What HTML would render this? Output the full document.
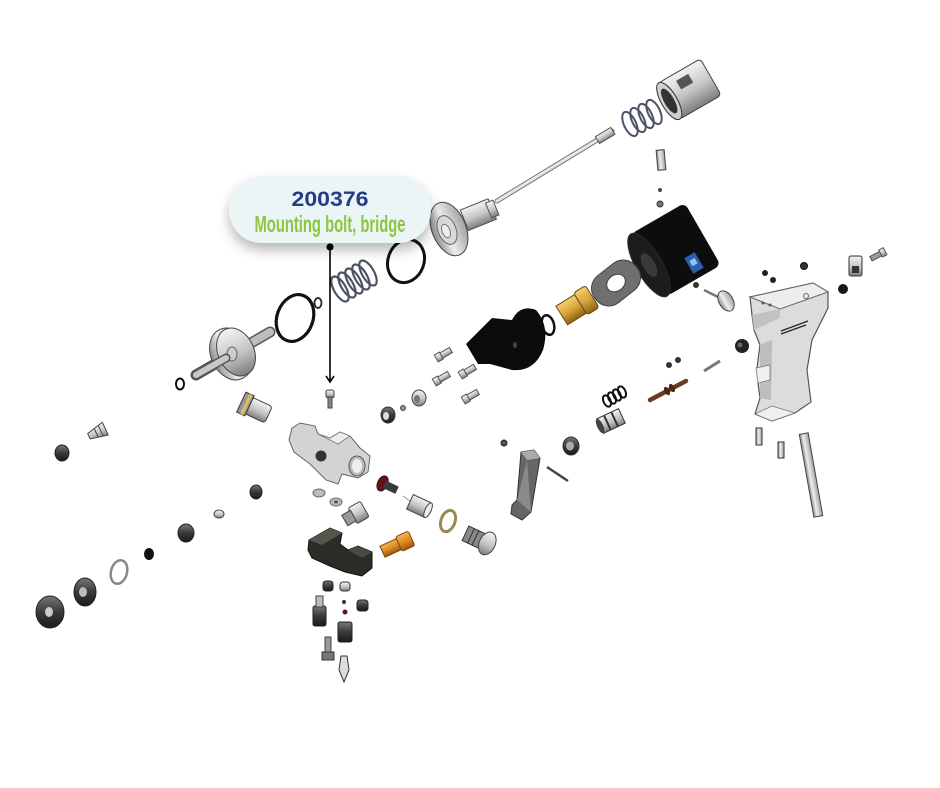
<!DOCTYPE html>
<html><head><meta charset="utf-8"><style>
html,body{margin:0;padding:0;background:#fff;}
svg{display:block;}
</style></head><body>
<svg width="940" height="788" viewBox="0 0 940 788" xmlns="http://www.w3.org/2000/svg">
<defs>
<linearGradient id="m" x1="0" y1="0" x2="0" y2="1"><stop offset="0" stop-color="#f4f4f4"/><stop offset=".55" stop-color="#c4c4c4"/><stop offset="1" stop-color="#7d7d7d"/></linearGradient>
<linearGradient id="mh" x1="0" y1="0" x2="1" y2="0"><stop offset="0" stop-color="#8a8a8a"/><stop offset=".4" stop-color="#eeeeee"/><stop offset="1" stop-color="#a0a0a0"/></linearGradient>
<linearGradient id="br" x1="0" y1="0" x2="0" y2="1"><stop offset="0" stop-color="#f3cf6e"/><stop offset=".5" stop-color="#d9a53a"/><stop offset="1" stop-color="#8a6118"/></linearGradient>
<linearGradient id="or" x1="0" y1="0" x2="0" y2="1"><stop offset="0" stop-color="#f7b456"/><stop offset=".5" stop-color="#e08a22"/><stop offset="1" stop-color="#9a560c"/></linearGradient>
<linearGradient id="dk" x1="0" y1="0" x2="0" y2="1"><stop offset="0" stop-color="#777"/><stop offset=".5" stop-color="#3a3a3a"/><stop offset="1" stop-color="#1a1a1a"/></linearGradient>
<filter id="sh" x="-20%" y="-30%" width="140%" height="180%"><feDropShadow dx="0" dy="7" stdDeviation="6" flood-color="#000" flood-opacity="0.28"/></filter>
</defs>

<!-- ===== TOP RIGHT: air cap, spring, needle ===== -->
<g transform="translate(690,89) rotate(-30)">
  <rect x="-24" y="-21" width="48" height="42" rx="4" fill="url(#m)" stroke="#444"/>
  <rect x="-8" y="-14" width="14" height="10" fill="#555"/>
  <ellipse cx="-24" cy="0" rx="8" ry="21" fill="#cfcfcf" stroke="#333"/>
  <ellipse cx="-24" cy="0" rx="5" ry="14" fill="#333"/>
</g>
<g fill="none" stroke="#4d5266" stroke-width="2">
  <ellipse cx="630" cy="124" rx="6" ry="13" transform="rotate(-25 630 124)"/>
  <ellipse cx="638" cy="120" rx="6" ry="13" transform="rotate(-25 638 120)"/>
  <ellipse cx="646" cy="116" rx="6" ry="13" transform="rotate(-25 646 116)"/>
  <ellipse cx="654" cy="112" rx="6" ry="13" transform="rotate(-25 654 112)"/>
</g>
<line x1="497" y1="201" x2="612" y2="131" stroke="#777" stroke-width="5" stroke-linecap="round"/>
<line x1="497" y1="201" x2="612" y2="131" stroke="#e6e6e6" stroke-width="3" stroke-linecap="round"/>
<g transform="translate(606,135) rotate(-31)"><rect x="-10" y="-4" width="18" height="8" fill="url(#m)" stroke="#555"/></g>

<!-- piston disc with hub -->
<g transform="translate(470,218) rotate(-22)">
  <rect x="-6" y="-11" width="30" height="22" fill="url(#m)" stroke="#555"/>
  <rect x="20" y="-8" width="8" height="16" fill="url(#m)" stroke="#555"/>
</g>
<ellipse cx="449" cy="229" rx="17" ry="28" transform="rotate(-22 449 229)" fill="url(#mh)" stroke="#444"/>
<ellipse cx="447" cy="230" rx="9" ry="15" transform="rotate(-22 447 230)" fill="#d8d8d8" stroke="#666"/>
<ellipse cx="446" cy="231" rx="4" ry="7" transform="rotate(-22 446 231)" fill="#eee" stroke="#777"/>

<!-- small screw + dots -->
<g transform="translate(661,160) rotate(-5)"><rect x="-4" y="-10" width="8" height="20" fill="url(#mh)" stroke="#444"/></g>
<circle cx="660" cy="190" r="2" fill="#444"/>
<circle cx="660" cy="204" r="3" fill="#777" stroke="#333"/>

<!-- black cylinder -->
<g transform="translate(675,250) rotate(-30)">
  <rect x="-30" y="-36" width="62" height="72" rx="6" fill="#0d0d0d"/>
  <ellipse cx="-30" cy="0" rx="13" ry="36" fill="#1c1c1c" stroke="#2a2a2a"/>
  <ellipse cx="-30" cy="0" rx="6" ry="13" fill="#3a3a3a"/>
</g>
<g transform="translate(694,263) rotate(-30)"><rect x="-6" y="-9" width="12" height="18" fill="#2a5fb0"/><rect x="-3" y="-4" width="6" height="6" fill="#9cc0ee"/></g>

<!-- gasket plate -->
<g transform="translate(616,283) rotate(-38)">
  <rect x="-26" y="-17" width="52" height="34" rx="16" fill="#6f6f6f" stroke="#444"/>
  <ellipse cx="0" cy="0" rx="10" ry="8" fill="#fff" stroke="#444"/>
</g>
<!-- brass fitting -->
<g transform="translate(577,306) rotate(-32)">
  <rect x="-18" y="-11" width="22" height="22" fill="url(#br)" stroke="#6a4a10"/>
  <rect x="4" y="-13" width="14" height="26" rx="3" fill="url(#br)" stroke="#6a4a10"/>
</g>
<!-- o-ring -->
<ellipse cx="548" cy="325" rx="6" ry="10" transform="rotate(-15 548 325)" fill="none" stroke="#111" stroke-width="2.5"/>

<!-- black block -->
<path d="M466 344 L492 318 L512 320 Q520 304 536 310 Q550 326 543 350 Q534 372 512 370 L490 364 L478 364 Z" fill="#0b0b0b"/>
<ellipse cx="515" cy="345" rx="2" ry="3" fill="#444"/>

<!-- valve stem -->
<circle cx="696" cy="285" r="3" fill="#333"/>
<line x1="704" y1="290" x2="722" y2="299" stroke="#777" stroke-width="2.5"/>
<ellipse cx="726" cy="301" rx="7" ry="11" transform="rotate(-30 726 301)" fill="url(#mh)" stroke="#444"/>

<!-- ===== PISTOL GRIP ===== -->
<path d="M750 297 L813 283 L828 292 L828 308 L812 340 L807 370 L811 402 L795 413 L772 421 L755 414 L760 398 L758 383 L765 378 L757 368 L760 345 L754 330 L752 315 Z" fill="#dcdcdc" stroke="#555" stroke-width="1.2"/>
<path d="M750 297 L813 283 L828 292 L780 309 Z" fill="#eeeeee" stroke="#666" stroke-width="1"/>
<path d="M752 315 L780 309 L780 318 L754 330 Z" fill="#c2c2c2"/>
<path d="M760 345 L772 340 L771 400 L760 398 Z" fill="#bdbdbd"/>
<path d="M756 368 L770 365 L770 380 L758 383 Z" fill="#f0f0f0" stroke="#777" stroke-width=".8"/>
<path d="M755 414 L772 406 L795 413 L772 421 Z" fill="#f0f0f0" stroke="#777" stroke-width=".8"/>
<g stroke="#222" stroke-width="1.2">
  <line x1="781" y1="331" x2="808" y2="321"/>
  <line x1="781" y1="334" x2="806" y2="325"/>
</g>
<circle cx="806" cy="296" r="2.5" fill="none" stroke="#666"/>
<circle cx="763" cy="303" r="1.5" fill="#555"/><circle cx="770" cy="305" r="1.5" fill="#555"/>

<!-- small bits near grip -->
<circle cx="765" cy="273" r="3" fill="#222"/>
<circle cx="773" cy="280" r="3" fill="#222"/>
<circle cx="804" cy="266" r="3.5" fill="#333" stroke="#111"/>
<circle cx="843" cy="289" r="5" fill="#1a1a1a"/>
<rect x="849" y="256" width="13" height="20" rx="2" fill="url(#m)" stroke="#333"/>
<rect x="852" y="266" width="7" height="7" fill="#333"/>
<g transform="translate(878,255) rotate(-28)"><rect x="-8" y="-2.5" width="12" height="5" fill="#999" stroke="#555"/><rect x="3" y="-4" width="5" height="8" fill="url(#m)" stroke="#555"/></g>

<circle cx="742" cy="346" r="7" fill="#222"/>
<circle cx="740" cy="345" r="2.5" fill="#666"/>
<line x1="704" y1="371" x2="720" y2="361" stroke="#777" stroke-width="3"/>
<circle cx="669" cy="365" r="3" fill="#333"/>
<circle cx="678" cy="360" r="3" fill="#333"/>
<line x1="650" y1="400" x2="686" y2="381" stroke="#6b3a22" stroke-width="4.5" stroke-linecap="round"/>
<g fill="#4a2816"><ellipse cx="667" cy="391" rx="2.5" ry="4.5" transform="rotate(-28 667 391)"/><ellipse cx="672" cy="388" rx="2.5" ry="4.5" transform="rotate(-28 672 388)"/></g>
<g fill="none" stroke="#111" stroke-width="2">
  <ellipse cx="607" cy="401" rx="3.5" ry="6" transform="rotate(-25 607 401)"/>
  <ellipse cx="612" cy="398" rx="3.5" ry="6" transform="rotate(-25 612 398)"/>
  <ellipse cx="617" cy="395" rx="3.5" ry="6" transform="rotate(-25 617 395)"/>
  <ellipse cx="622" cy="392" rx="3.5" ry="6" transform="rotate(-25 622 392)"/>
</g>
<g transform="translate(611,421) rotate(-25)">
  <rect x="-12" y="-8" width="24" height="16" fill="url(#m)" stroke="#333"/>
  <line x1="-4" y1="-8" x2="-4" y2="8" stroke="#333" stroke-width="2"/><line x1="4" y1="-8" x2="4" y2="8" stroke="#333" stroke-width="2"/>
  <ellipse cx="-12" cy="0" rx="3" ry="8" fill="#444"/>
</g>
<rect x="756" y="428" width="6" height="17" fill="url(#mh)" stroke="#333"/>
<rect x="778" y="442" width="6" height="16" fill="url(#mh)" stroke="#333"/>
<g transform="translate(811,475) rotate(-10)"><rect x="-4.5" y="-42" width="9" height="84" fill="url(#mh)" stroke="#444"/></g>

<!-- ===== MIDDLE SCREWS / FITTINGS ===== -->
<g fill="url(#m)" stroke="#555">
  <g transform="translate(444,354) rotate(-30)"><rect x="-4" y="-3" width="12" height="6"/><rect x="-9" y="-4" width="6" height="8"/></g>
  <g transform="translate(442,378) rotate(-30)"><rect x="-4" y="-3" width="12" height="6"/><rect x="-9" y="-4" width="6" height="8"/></g>
  <g transform="translate(468,371) rotate(-30)"><rect x="-4" y="-3" width="12" height="6"/><rect x="-9" y="-4" width="6" height="8"/></g>
  <g transform="translate(471,396) rotate(-30)"><rect x="-4" y="-3" width="12" height="6"/><rect x="-9" y="-4" width="6" height="8"/></g>
</g>
<ellipse cx="388" cy="415" rx="7" ry="8" fill="url(#dk)" stroke="#333"/>
<ellipse cx="386" cy="416" rx="3" ry="4" fill="#ddd"/>
<circle cx="403" cy="408" r="2.5" fill="#999" stroke="#444"/>
<ellipse cx="419" cy="398" rx="7" ry="8" fill="url(#m)" stroke="#444"/>
<ellipse cx="417" cy="399" rx="3" ry="4" fill="#777"/>
<circle cx="504" cy="443" r="3" fill="#555" stroke="#222"/>
<ellipse cx="571" cy="446" rx="8" ry="9" fill="url(#dk)" stroke="#333"/>
<ellipse cx="570" cy="446" rx="4" ry="4.5" fill="#aaa"/>
<line x1="547" y1="467" x2="568" y2="481" stroke="#444" stroke-width="2.5"/>
<!-- trigger lever -->
<path d="M521 452 L534 450 L540 458 L531 512 L522 520 L511 514 L512 505 L517 500 Z" fill="#666" stroke="#333"/>
<path d="M521 452 L534 450 L540 458 L527 460 Z" fill="#aaa"/>
<path d="M517 500 L527 460 L531 512 Z" fill="#8a8a8a"/>

<!-- ===== LEFT: spring, o-rings, piston ===== -->
<g fill="none" stroke="#4d5266" stroke-width="2.2">
  <ellipse cx="340" cy="289" rx="6" ry="14" transform="rotate(-30 340 289)"/>
  <ellipse cx="347" cy="285" rx="6" ry="14" transform="rotate(-30 347 285)"/>
  <ellipse cx="354" cy="281" rx="6" ry="14" transform="rotate(-30 354 281)"/>
  <ellipse cx="361" cy="277" rx="6" ry="14" transform="rotate(-30 361 277)"/>
  <ellipse cx="368" cy="273" rx="6" ry="14" transform="rotate(-30 368 273)"/>
</g>
<ellipse cx="406" cy="261" rx="18" ry="22" transform="rotate(20 406 261)" fill="none" stroke="#111" stroke-width="3"/>
<ellipse cx="295" cy="318" rx="18" ry="24" transform="rotate(20 295 318)" fill="none" stroke="#111" stroke-width="3.2"/>
<ellipse cx="318" cy="303" rx="3.5" ry="5" fill="none" stroke="#222" stroke-width="1.8"/>
<line x1="196" y1="375" x2="270" y2="332" stroke="#555" stroke-width="11" stroke-linecap="round"/>
<line x1="196" y1="375" x2="270" y2="332" stroke="#bdbdbd" stroke-width="8" stroke-linecap="round"/>
<ellipse cx="231" cy="354" rx="20" ry="27" transform="rotate(-25 231 354)" fill="url(#mh)" stroke="#444"/>
<ellipse cx="236" cy="352" rx="18" ry="25" transform="rotate(-25 236 352)" fill="url(#m)" stroke="#444"/>
<ellipse cx="232" cy="354" rx="5" ry="7" fill="#ccc" stroke="#666"/>
<line x1="196" y1="375" x2="226" y2="358" stroke="#555" stroke-width="9" stroke-linecap="round"/>
<line x1="196" y1="375" x2="226" y2="358" stroke="#c8c8c8" stroke-width="6" stroke-linecap="round"/>
<ellipse cx="180" cy="384" rx="4" ry="5.5" fill="none" stroke="#111" stroke-width="2"/>
<!-- fitting left -->
<g transform="translate(254,408) rotate(25)">
  <rect x="-6" y="-9" width="22" height="18" rx="3" fill="url(#m)" stroke="#444"/>
  <rect x="-14" y="-11" width="9" height="22" fill="#999" stroke="#333"/>
  <rect x="-10" y="-11" width="3" height="22" fill="#d8c060"/>
</g>
<!-- mounting bolt -->
<rect x="326" y="390" width="8" height="8" rx="2" fill="url(#m)" stroke="#444"/>
<rect x="328" y="397" width="4" height="11" fill="#888" stroke="#444"/>
<!-- block -->
<path d="M292 428 L300 423 L315 426 L318 434 L330 438 L340 432 L350 436 L360 448 L370 456 L368 472 L358 478 L342 474 L338 484 L326 480 L310 464 L294 452 L289 440 Z" fill="#d3d3d3" stroke="#666" stroke-width="1"/>
<path d="M318 434 L330 438 L340 432 L350 436 L338 444 Z" fill="#eeeeee" stroke="#777" stroke-width=".8"/>
<circle cx="321" cy="456" r="5.5" fill="#333"/>
<ellipse cx="357" cy="466" rx="8" ry="10" fill="#bbb" stroke="#555"/>
<ellipse cx="357" cy="466" rx="5" ry="7" fill="#eee"/>

<!-- ===== FAR LEFT / BOTTOM LEFT ===== -->
<g transform="translate(98,432) rotate(-25)"><path d="M-10 -3 L8 -7 L8 7 L-10 3 Z" fill="url(#m)" stroke="#444"/><line x1="-2" y1="-5" x2="-2" y2="5" stroke="#444"/><line x1="3" y1="-6" x2="3" y2="6" stroke="#444"/></g>
<ellipse cx="62" cy="453" rx="7" ry="8" fill="url(#dk)" stroke="#222"/>
<ellipse cx="256" cy="492" rx="6" ry="7" fill="url(#dk)" stroke="#222"/>
<ellipse cx="219" cy="514" rx="5" ry="4" fill="url(#m)" stroke="#444"/>
<ellipse cx="186" cy="533" rx="8" ry="9" fill="url(#dk)" stroke="#222"/>
<ellipse cx="149" cy="554" rx="5" ry="6" fill="#111"/>
<ellipse cx="119" cy="572" rx="8" ry="12" transform="rotate(15 119 572)" fill="none" stroke="#888" stroke-width="2.5"/>
<ellipse cx="85" cy="592" rx="11" ry="14" fill="url(#dk)" stroke="#222"/>
<ellipse cx="83" cy="592" rx="4" ry="5" fill="#bbb"/>
<ellipse cx="50" cy="612" rx="14" ry="16" fill="url(#dk)" stroke="#222"/>
<ellipse cx="49" cy="612" rx="4" ry="5" fill="#ccc"/>

<!-- ===== LOWER CENTER ===== -->
<g transform="translate(388,486) rotate(25)"><ellipse cx="-6" cy="0" rx="5" ry="8" fill="#6a1015" stroke="#222"/><rect x="-4" y="-4" width="14" height="8" fill="#3a3a3a"/></g>
<line x1="403" y1="496" x2="411" y2="502" stroke="#999" stroke-width="1"/>
<g transform="translate(419,506) rotate(25)"><rect x="-10" y="-8" width="20" height="16" fill="url(#m)" stroke="#444"/><ellipse cx="10" cy="0" rx="3" ry="8" fill="#eee" stroke="#444"/></g>
<ellipse cx="448" cy="521" rx="7" ry="11" transform="rotate(20 448 521)" fill="none" stroke="#9a8a50" stroke-width="3"/>
<g transform="translate(480,540) rotate(25)"><rect x="-16" y="-8" width="20" height="16" fill="#888" stroke="#333"/><line x1="-10" y1="-8" x2="-10" y2="8" stroke="#333"/><line x1="-5" y1="-8" x2="-5" y2="8" stroke="#333"/><ellipse cx="8" cy="0" rx="8" ry="12" fill="url(#m)" stroke="#444"/></g>
<ellipse cx="319" cy="493" rx="6" ry="4" fill="#bbb" stroke="#666"/>
<ellipse cx="336" cy="502" rx="6" ry="4" fill="#bbb" stroke="#666"/>
<ellipse cx="336" cy="502" rx="2" ry="1.5" fill="#555"/>
<g transform="translate(356,514) rotate(-30)"><rect x="-4" y="-9" width="14" height="18" rx="2" fill="url(#m)" stroke="#444"/><rect x="-13" y="-6" width="10" height="12" fill="#999" stroke="#444"/></g>
<!-- black bracket -->
<path d="M309 540 L330 528 L342 533 L340 544 L348 550 L358 546 L372 552 L372 568 L362 576 L345 572 L330 566 L312 558 L308 550 Z" fill="#2c2c26" stroke="#111"/>
<path d="M309 540 L330 528 L342 533 L322 545 Z" fill="#55554c"/>
<path d="M348 550 L358 546 L372 552 L362 558 Z" fill="#4a4a42"/>
<g transform="translate(397,545) rotate(-25)"><rect x="-16" y="-6" width="18" height="12" fill="url(#or)" stroke="#7a4a10"/><rect x="2" y="-8" width="14" height="16" rx="2" fill="url(#or)" stroke="#7a4a10"/></g>
<rect x="323" y="581" width="10" height="10" rx="3" fill="url(#dk)" stroke="#222"/>
<rect x="340" y="582" width="10" height="9" rx="3" fill="url(#m)" stroke="#333"/>
<rect x="357" y="600" width="11" height="11" rx="3" fill="url(#dk)" stroke="#222"/>
<circle cx="344" cy="602" r="2" fill="#333"/>
<circle cx="345" cy="612" r="2.5" fill="#6a1015"/>
<rect x="313" y="606" width="13" height="20" rx="2" fill="url(#dk)" stroke="#222"/>
<rect x="316" y="596" width="7" height="11" fill="#bbb" stroke="#444"/>
<rect x="338" y="622" width="14" height="20" rx="2" fill="url(#dk)" stroke="#222"/>
<rect x="325" y="637" width="6" height="20" fill="#999" stroke="#444"/>
<rect x="322" y="652" width="12" height="8" fill="#777" stroke="#333"/>
<path d="M341 656 L347 656 L349 670 L344 682 L339 670 Z" fill="#ddd" stroke="#333"/>

<!-- ===== CALLOUT ===== -->
<rect x="229" y="176" width="202" height="67" rx="33" fill="#ebf5f6" filter="url(#sh)"/>
<text x="330" y="206" text-anchor="middle" font-family="Liberation Sans, sans-serif" font-weight="bold" font-size="21" fill="#233b8a" textLength="77" lengthAdjust="spacingAndGlyphs">200376</text>
<text x="330" y="232" text-anchor="middle" font-family="Liberation Sans, sans-serif" font-weight="bold" font-size="23" fill="#8cc63f" textLength="151" lengthAdjust="spacingAndGlyphs">Mounting bolt, bridge</text>
<circle cx="330" cy="247" r="3.6" fill="#000"/>
<line x1="330" y1="247" x2="330" y2="382" stroke="#000" stroke-width="1.6"/>
<polyline points="326,376 330,382 334,376" fill="none" stroke="#000" stroke-width="1.6"/>
</svg>
</body></html>
